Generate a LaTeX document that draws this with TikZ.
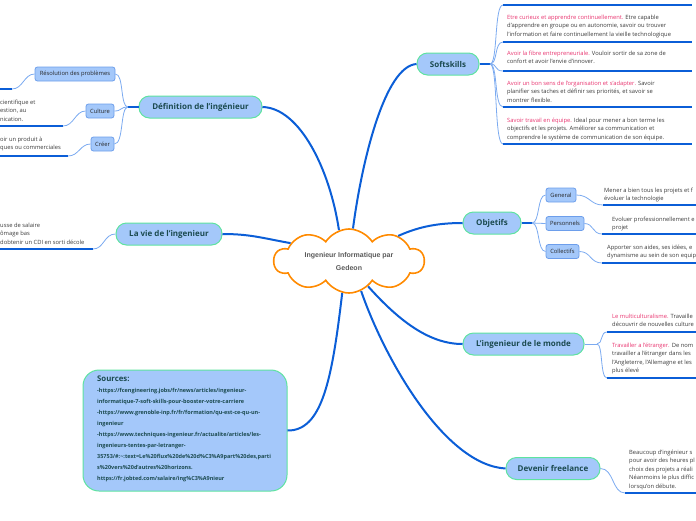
\documentclass[tikz,border=0pt]{standalone}
\usepackage{fontspec}
\setmainfont{Open Sans}
\newfontfamily\cloudfont{Liberation Sans}
\usetikzlibrary{shapes.symbols}
\definecolor{nodefill}{HTML}{A4C8FA}
\definecolor{nodeborder}{HTML}{5EE3A0}
\definecolor{nodetext}{HTML}{1B4A4F}
\definecolor{mainline}{HTML}{0B5ED7}
\definecolor{subline}{HTML}{7BAAF0}
\definecolor{subborder}{HTML}{6D9EEB}
\definecolor{pinkc}{HTML}{E8336E}
\definecolor{bodytext}{HTML}{3A3A3A}
\definecolor{cloudorange}{HTML}{FF8A00}
\definecolor{cloudtext}{HTML}{5A5A5A}
\begin{document}
\begin{tikzpicture}[x=1pt,y=-1pt,
 mainnode/.style={draw=nodeborder, line width=1pt, fill=nodefill, rounded corners=10.5pt, minimum height=22pt, inner sep=0pt, font=\fontsize{8}{9}\selectfont\bfseries, text=nodetext},
 subnode/.style={draw=subborder, line width=0.8pt, fill=nodefill, rounded corners=2.5pt, minimum height=14pt, inner xsep=2pt, inner ysep=0pt, font=\fontsize{5.8}{6}\selectfont, text=black!85},
 bodyblock/.style={anchor=north west, inner sep=0pt, align=left, font=\fontsize{5.8}{8.5}\selectfont, text=bodytext},
 mainlink/.style={draw=mainline, line width=2pt},
 sublink/.style={draw=subline, line width=0.8pt},
 uline/.style={draw=mainline, line width=1.5pt},
]
\useasboundingbox (0,0) rectangle (696,520);

% ---------- central cloud ----------
\node[cloud, cloud puffs=10, cloud puff arc=115, cloud ignores aspect, draw=cloudorange, line width=1.6pt, fill=white, minimum width=150pt, minimum height=64pt, align=center, font=\cloudfont\fontsize{7}{13}\selectfont\bfseries, text=cloudtext] (center) at (349,261) {Ingenieur Informatique par\\Gedeon};

% ---------- main nodes ----------
\node[mainnode, minimum width=62pt] (soft) at (448,64) {Softskills};
\node[mainnode, minimum width=123pt] (def) at (200.5,107) {Définition de l'ingénieur};
\node[mainnode, minimum width=106pt] (vie) at (169,234) {La vie de l'ingenieur};
\node[mainnode, minimum width=58pt] (obj) at (492,223) {Objetifs};
\node[mainnode, minimum width=121pt] (monde) at (523.5,344) {L'ingenieur de le monde};
\node[mainnode, minimum width=94pt] (free) at (553,468.5) {Devenir freelance};

% ---------- sources box ----------
\node[draw=nodeborder, line width=1pt, fill=nodefill, rounded corners=16pt, minimum width=204pt, minimum height=121pt, inner sep=0pt] (src) at (185,430.5) {};
\node[anchor=north west, inner sep=0pt, align=left, font=\fontsize{5.5}{11}\selectfont\bfseries, text=nodetext] (srctext) at (97,376) {{\fontsize{7.8}{11}\selectfont Sources:}\\
-https://fcengineering.jobs/fr/news/articles/ingenieur-\\
informatique-7-soft-skills-pour-booster-votre-carriere\\
-https://www.grenoble-inp.fr/fr/formation/qu-est-ce-qu-un-\\
ingenieur\\
-https://www.techniques-ingenieur.fr/actualite/articles/les-\\
ingenieurs-tentes-par-letranger-\\
35753/\#:\textasciitilde:text=Le\%20flux\%20de\%20d\%C3\%A9part\%20des,parti\\
s\%20vers\%20d'autres\%20horizons.\\
https://fr.jobted.com/salaire/ing\%C3\%A9nieur};

% ---------- sub nodes ----------
\node[subnode, minimum width=80pt] (res) at (75,74) {Résolution des problèmes};
\node[subnode, minimum width=28pt] (cul) at (100,111) {Culture};
\node[subnode, minimum width=23pt] (cre) at (102.5,144) {Créer};
\node[subnode, minimum width=30pt] (gen) at (561,195) {General};
\node[subnode, minimum width=38pt] (per) at (565,223.5) {Personnels};
\node[subnode, minimum width=33pt] (col) at (562.5,251.5) {Collectifs};

% ---------- text blocks ----------
\node[bodyblock] (s2) at (507,14.5) {\textcolor{pinkc}{Etre curieux et apprendre continuellement.} Etre capable\\d'apprendre en groupe ou en autonomie, savoir ou trouver\\l'information et faire continuellement la vieille technologique};
\node[bodyblock] (s3) at (507,50.5) {\textcolor{pinkc}{Avoir la fibre entrepreneuriale.} Vouloir sortir de sa zone de\\confort et avoir l'envie d'innover.};
\node[bodyblock] (s4) at (507,80.5) {\textcolor{pinkc}{Avoir un bon sens de l'organisation et s'adapter.} Savoir\\planifier ses taches et définir ses priorités, et savoir se\\montrer flexible.};
\node[bodyblock] (s5) at (507,117.5) {\textcolor{pinkc}{Savoir travail en équipe.} Ideal pour mener a bon terme les\\objectifs et les projets. Améliorer sa communication et\\comprendre le système de communication de son équipe.};

\node[bodyblock] (tgen) at (604,187.5) {Mener a bien tous les projets et f\\évoluer la technologie};
\node[bodyblock] (tper) at (612,216.5) {Evoluer professionnellement e\\projet};
\node[bodyblock] (tcol) at (607,244.5) {Apporter son aides, ses idées, e\\dynamisme au sein de son equip};

\node[bodyblock] (tm1) at (612,313.5) {\textcolor{pinkc}{Le multiculturalisme.} Travaille\\découvrir de nouvelles culture};
\node[bodyblock] (tm2) at (612,342.5) {\textcolor{pinkc}{Travailler a l'étranger.} De nom\\travailler a l'étranger dans les\\l'Angleterre, l'Allemagne et les\\plus élevé};

\node[bodyblock] (tfree) at (629,449.5) {Beaucoup d'ingénieur s\\pour avoir des heures pl\\choix des projets a réali\\Néanmoins le plus diffic\\lorsqu'on débute.};

\node[bodyblock] (tcul) at (0,99.5) {cientifique et\\estion, au\\nication.};
\node[bodyblock] (tcre) at (0,136.5) {oir un produit à\\ques ou commerciales};
\node[bodyblock] (tvie) at (0,222.5) {usse de salaire\\ômage bas\\dobtenir un CDI en sorti décole};

% ---------- coordinates ----------
\coordinate (sfork) at (490,64);
\coordinate (dfork) at (128,107);
\coordinate (ofork) at (532,223);
\coordinate (mfork) at (597,344);
\foreach \n/\y in {1/5,2/42,3/71,4/107,5/144}{
  \coordinate (s\n a) at (503,\y);
  \coordinate (s\n b) at (692,\y);
}
\coordinate (ga) at (603,205);   \coordinate (gb) at (700,205);
\coordinate (pa) at (602,234);   \coordinate (pb) at (700,234);
\coordinate (ca) at (602,263);   \coordinate (cb) at (700,263);
\coordinate (m1a) at (607,332);  \coordinate (m1b) at (700,332);
\coordinate (m2a) at (607,378);  \coordinate (m2b) at (700,378);
\coordinate (fa) at (625,493);   \coordinate (fb) at (700,493);
\coordinate (ra) at (12,89);     \coordinate (rb) at (-4,89);
\coordinate (cua) at (63,126);   \coordinate (cub) at (-4,126);
\coordinate (cra) at (68,156);   \coordinate (crb) at (-4,156);
\coordinate (va) at (93,249);    \coordinate (vb) at (-4,249);

% ---------- main links ----------
\draw[mainlink] (def.east) .. controls (300,108) and (330,170) .. (center.108);
\draw[mainlink] (center.83) .. controls (362,160) and (385,66) .. (soft.west);
\draw[mainlink] (vie.east) .. controls (250,234) and (262,238) .. (center.163);
\draw[mainlink] (center.27) .. controls (420,226) and (440,223) .. (obj.west);
\draw[mainlink] (center.-53) .. controls (400,322) and (430,344) .. (monde.west);
\draw[mainlink] (center.-102) .. controls (332,380) and (322,431) .. (src.east);
\draw[mainlink] (center.-68) .. controls (385,360) and (445,465) .. (free.west);

% ---------- forks ----------
\draw[mainlink] (soft.east) -- (sfork);
\draw[mainlink] (def.west) -- (dfork);
\draw[mainlink] (obj.east) -- (ofork);
\draw[sublink] (monde.east) -- (mfork);

\foreach \n/\y in {1/5,2/42,3/71,4/107,5/144}{
  \draw[sublink] (sfork) .. controls (498,64) and (494,\y) .. (s\n a);
  \draw[uline] (s\n a) -- (s\n b);
}
\draw[sublink] (dfork) .. controls (120,107) and (124,74) .. (res.east);
\draw[sublink] (dfork) .. controls (120,107) and (122,111) .. (cul.east);
\draw[sublink] (dfork) .. controls (120,107) and (124,144) .. (cre.east);

\draw[sublink] (ofork) .. controls (540,223) and (537,195) .. (gen.west);
\draw[sublink] (ofork) -- (per.west);
\draw[sublink] (ofork) .. controls (540,223) and (537,251.5) .. (col.west);

\draw[sublink] (gen.east) .. controls (590,195) and (590,205) .. (ga);
\draw[sublink] (per.east) .. controls (594,223.5) and (592,234) .. (pa);
\draw[sublink] (col.east) .. controls (591,251.5) and (590,263) .. (ca);
\draw[uline] (ga) -- (gb);
\draw[uline] (pa) -- (pb);
\draw[uline] (ca) -- (cb);

\draw[sublink] (mfork) .. controls (603,344) and (600,332) .. (m1a);
\draw[sublink] (mfork) .. controls (603,344) and (600,378) .. (m2a);
\draw[uline] (m1a) -- (m1b);
\draw[uline] (m2a) -- (m2b);

\draw[sublink] (free.east) .. controls (614,468.5) and (612,493) .. (fa);
\draw[uline] (fa) -- (fb);

\draw[sublink] (res.west) .. controls (24,74) and (23,89) .. (ra);
\draw[sublink] (cul.west) .. controls (75,111) and (74,126) .. (cua);
\draw[sublink] (cre.west) .. controls (80,144) and (79,156) .. (cra);
\draw[sublink] (vie.west) .. controls (104,234) and (104,249) .. (va);
\draw[uline] (ra) -- (rb);
\draw[uline] (cua) -- (cub);
\draw[uline] (cra) -- (crb);
\draw[uline] (va) -- (vb);
\end{tikzpicture}
\end{document}
